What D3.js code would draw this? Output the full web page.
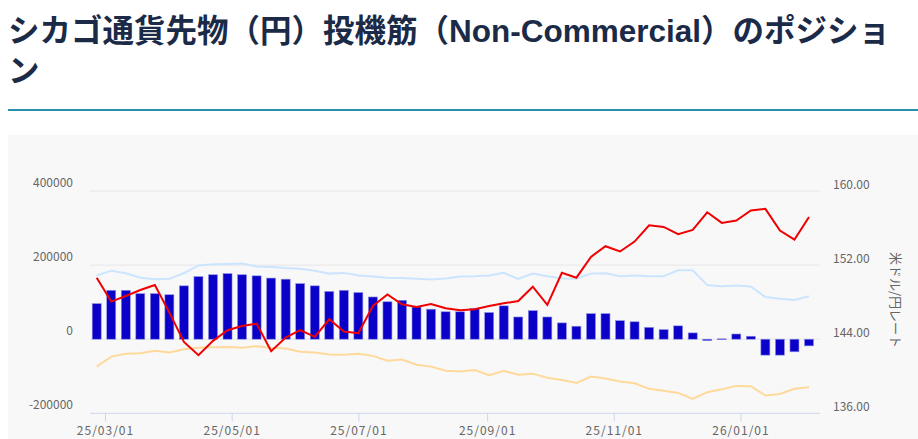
<!DOCTYPE html>
<html><head><meta charset="utf-8">
<script src="https://cdn.jsdelivr.net/npm/d3@7/dist/d3.min.js"></script>
<style>body{margin:0;background:#fff;font-family:"Noto Sans CJK JP","Noto Sans",sans-serif;}</style>
</head><body><svg id="c" width="918" height="439"></svg>
<script>
const titleLines = ["シカゴ通貨先物（円）投機筋（Non-Commercial）のポジショ","ン"];
const dates = ["2025-02-25","2025-03-04","2025-03-11","2025-03-18","2025-03-25","2025-04-01","2025-04-08","2025-04-15","2025-04-22","2025-04-29",
"2025-05-06","2025-05-13","2025-05-20","2025-05-27","2025-06-03","2025-06-10","2025-06-17","2025-06-24","2025-07-01","2025-07-08",
"2025-07-15","2025-07-22","2025-07-29","2025-08-05","2025-08-12","2025-08-19","2025-08-26","2025-09-02","2025-09-09","2025-09-16",
"2025-09-23","2025-09-30","2025-10-07","2025-10-14","2025-10-21","2025-10-28","2025-11-04","2025-11-11","2025-11-18","2025-11-25",
"2025-12-02","2025-12-09","2025-12-16","2025-12-23","2025-12-30","2026-01-06","2026-01-13","2026-01-20","2026-01-27","2026-02-03"];
const netPos = [96000,132000,132000,123000,123000,120000,144000,169000,174000,177000,174000,171000,165000,162000,150000,144000,129000,132000,126000,114000,
101000,105000,87000,81000,74000,74000,83000,72000,90000,60000,77000,60000,44000,35000,69000,69000,50000,47000,32000,26000,
36000,17000,-4000,1000,14000,8000,-43000,-43000,-34000,-18000];
const longPos = [172000,185000,178000,166000,162000,163000,178000,199000,202000,203000,204000,196000,195000,192000,190000,185000,177000,179000,172000,169000,
166000,165000,163000,161000,164000,169000,170000,172000,179000,163000,177000,170000,164000,163000,177000,178000,170000,172000,170000,170000,
186000,186000,146000,143000,145000,142000,114000,109000,106000,116000];
const shortPos = [-74000,-47000,-39000,-38000,-31000,-36000,-27000,-23000,-22000,-21000,-23000,-19000,-23000,-25000,-34000,-36000,-41000,-42000,-39000,-45000,
-58000,-55000,-69000,-74000,-85000,-87000,-83000,-97000,-85000,-96000,-93000,-104000,-110000,-118000,-101000,-106000,-114000,-119000,-134000,-139000,
-145000,-161000,-143000,-135000,-126000,-127000,-152000,-148000,-134000,-130000];
const usdjpy = [150.64,148.06,148.67,149.31,149.85,146.87,143.71,142.28,143.82,144.97,145.43,145.69,142.71,144.18,144.97,144.25,146.15,144.83,144.65,147.59,
148.84,147.77,147.48,147.80,147.34,147.12,147.23,147.59,147.87,148.13,149.67,147.70,151.17,150.64,152.89,154.04,153.47,154.54,156.30,156.12,
155.33,155.80,157.70,156.56,156.81,157.89,158.07,155.73,154.76,157.20];
const leftTicks = [-200000,0,200000,400000];
const rightTicks = [136,144,152,160];
const xTicks = ["2025-03-01","2025-05-01","2025-07-01","2025-09-01","2025-11-01","2026-01-01"];
const rightTitle = "米ドル/円レート";

const svg = d3.select("#c");
const font = '"Noto Sans CJK JP","Noto Sans",sans-serif';
const t = svg.append("text").attr("x",8).attr("font-family",'"Liberation Sans","Noto Sans CJK JP",sans-serif').attr("font-weight","bold")
  .attr("font-size",31.5).attr("fill","#1b2a47");
titleLines.forEach((l,i)=>t.append("tspan").attr("x",8).attr("y",42+i*40).text(l));
svg.append("rect").attr("x",8).attr("y",109).attr("width",910).attr("height",2).attr("fill","#2a90aa");
svg.append("rect").attr("x",8).attr("y",135).attr("width",910).attr("height",304).attr("fill","#f8f8f8");

const parse = d3.timeParse("%Y-%m-%d");
const dd = dates.map(parse);
const x = d3.scaleTime().domain([parse("2025-02-25"),parse("2026-02-03")]).range([96.7,809]);
const yL = d3.scaleLinear().domain([-200000,400000]).range([413.3,191]);
const yR = d3.scaleLinear().domain([136,160]).range([413.3,191]);
const L=90,R=820;

svg.append("g").selectAll("line").data(leftTicks).join("line")
  .attr("x1",L).attr("x2",R).attr("y1",d=>yL(d)).attr("y2",d=>yL(d))
  .attr("stroke",d=>d===-200000?"#ccd6eb":"#e6e6e6").attr("stroke-width",1);

svg.append("g").selectAll("text").data(leftTicks).join("text")
  .attr("x",73).attr("y",d=>yL(d)-4).attr("text-anchor","end").attr("font-family",font)
  .attr("font-size",12).attr("fill","#666").text(d=>d);
svg.append("g").selectAll("text").data(rightTicks).join("text")
  .attr("x",833).attr("y",d=>yR(d)-2).attr("font-family",font)
  .attr("font-size",12).attr("fill","#666").text(d=>d.toFixed(2));
svg.append("text").attr("transform","translate(891,300) rotate(90)").attr("text-anchor","middle")
  .attr("font-family",font).attr("font-size",13).attr("fill","#666").text(rightTitle);

const xa = svg.append("g").attr("transform","translate(0,413.3)")
  .call(d3.axisBottom(x).tickValues(xTicks.map(parse)).tickFormat(d3.timeFormat("%y/%m/%d")).tickSize(8).tickSizeOuter(0));
xa.select(".domain").remove();
xa.selectAll("line").attr("stroke","#ccd6eb");
xa.selectAll("text").attr("font-family",font).attr("font-size",12).attr("fill","#666").attr("dy","0.9em").attr("letter-spacing","1px");

svg.append("g").selectAll("rect").data(netPos).join("rect")
  .attr("x",(d,i)=>x(dd[i])-4.5).attr("width",9)
  .attr("y",d=>yL(Math.max(0,d))).attr("height",d=>Math.max(0.8,Math.abs(yL(d)-yL(0))))
  .attr("fill","#0a00c8").attr("stroke","#8f8fe6").attr("stroke-width",0.6);

const line = (arr,sc)=>d3.line().x((d,i)=>x(dd[i])).y(d=>sc(d))(arr);
svg.append("path").attr("d",line(longPos,yL)).attr("fill","none").attr("stroke","#cce5ff").attr("stroke-width",2);
svg.append("path").attr("d",line(shortPos,yL)).attr("fill","none").attr("stroke","#ffd99a").attr("stroke-width",2);
svg.append("path").attr("d",line(usdjpy,yR)).attr("fill","none").attr("stroke","#f00000").attr("stroke-width",2);
</script></body></html>
